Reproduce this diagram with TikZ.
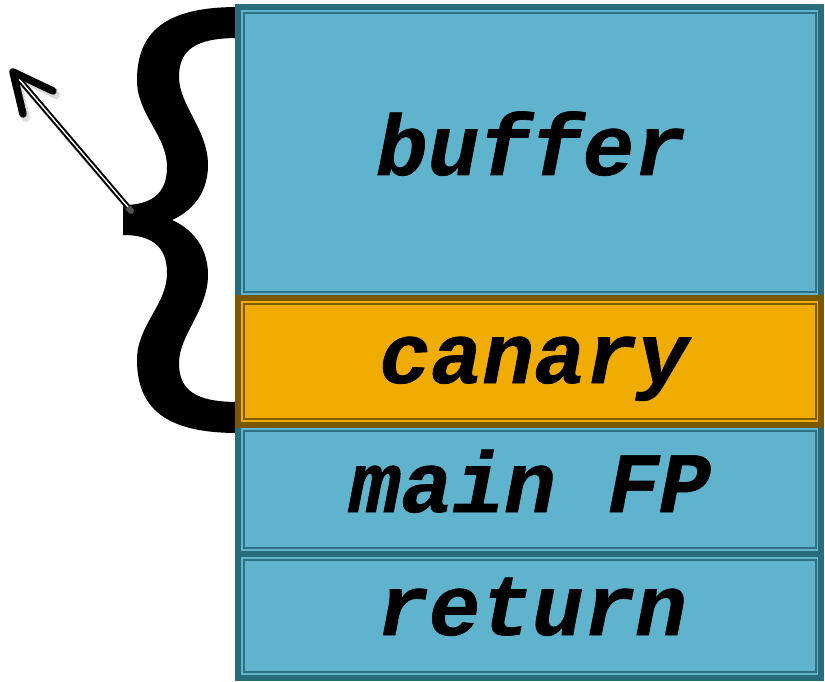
\documentclass[tikz,border=0pt]{standalone}
\usepackage{fontspec}
\newfontfamily\lblfont{Liberation Mono}[BoldItalicFeatures={FakeBold=0.8}]
\begin{document}
\begin{tikzpicture}[x=1pt,y=-1pt,
  blueframe/.style={draw=frameteal, line width=6pt, fill=boxblue},
  canaryframe/.style={draw=framebrown, line width=6pt, fill=canaryorange},
  innerteal/.style={draw=innerteal, line width=1.6pt},
  innerbrown/.style={draw=innerbrownc, line width=1.6pt},
  label/.style={font=\fontsize{86}{86}\selectfont\lblfont\bfseries\itshape, anchor=base, inner sep=0pt}]
\definecolor{boxblue}{HTML}{5FB3CC}
\definecolor{frameteal}{HTML}{2A6B7C}
\definecolor{innerteal}{HTML}{2E7185}
\definecolor{canaryorange}{HTML}{F0AC00}
\definecolor{framebrown}{HTML}{7A5800}
\definecolor{innerbrownc}{HTML}{7E5B00}
\useasboundingbox (0,0) rectangle (825,682);
% brace
\fill[black] (238,7)
  .. controls (175,7) and (137,25) .. (137,80)
  .. controls (137,115) and (167,135) .. (167,167)
  .. controls (167,195) and (150,205) .. (123,205)
  -- (123,235)
  .. controls (150,235) and (167,245) .. (167,273)
  .. controls (167,305) and (137,325) .. (137,360)
  .. controls (137,415) and (175,433) .. (238,433)
  -- (238,402)
  .. controls (195,402) and (179,390) .. (179,363)
  .. controls (179,335) and (208,310) .. (208,275)
  .. controls (208,245) and (190,228) .. (172,220)
  .. controls (190,212) and (208,195) .. (208,165)
  .. controls (208,130) and (179,105) .. (179,77)
  .. controls (179,50) and (195,38) .. (238,38)
  -- cycle;
% boxes
\coordinate (bufNW) at (238,7);   \coordinate (bufSE) at (820.5,298);
\coordinate (fpNW) at (238,425);  \coordinate (fpSE) at (820.5,554);
\coordinate (retNW) at (238,554); \coordinate (retSE) at (820.5,678);
\coordinate (canNW) at (238,298); \coordinate (canSE) at (820.5,425);
\draw[blueframe] (bufNW) rectangle (bufSE);
\draw[innerteal] ([shift={(6,6)}]bufNW) rectangle ([shift={(-4.5,-6)}]bufSE);
\draw[blueframe] (fpNW) rectangle (fpSE);
\draw[innerteal] ([shift={(6,6)}]fpNW) rectangle ([shift={(-4.5,-6)}]fpSE);
\draw[blueframe] (retNW) rectangle (retSE);
\draw[innerteal] ([shift={(6,6)}]retNW) rectangle ([shift={(-4.5,-6)}]retSE);
\draw[canaryframe] (canNW) rectangle (canSE);
\draw[innerbrown] ([shift={(6,6)}]canNW) rectangle ([shift={(-4.5,-6)}]canSE);
% labels
\node[label] (tbuf) at (531,175) {buffer};
\node[label] (tcan) at (534,383) {canary};
\node[label] (tfp) at (530,512) {main FP};
\node[label] (tret) at (532,635) {return};
% arrow
\coordinate (atail) at (128,207);
\coordinate (ahead) at (13,72);
\draw[black!30, line width=6pt, line cap=round, opacity=0.45] ([shift={(3,4)}]atail) -- ([shift={(3,4)}]ahead);
\draw[black!30, line width=8pt, line cap=round, line join=round, opacity=0.45] ([shift={(43,23)}]ahead) -- ([shift={(3,4)}]ahead) -- ([shift={(13,46)}]ahead);
\draw[line width=2pt, double=white, double distance=1.4pt] (atail) -- (ahead);
\draw[line width=7.5pt, line cap=round, line join=round] ([shift={(40,19)}]ahead) -- (ahead) -- ([shift={(10,42)}]ahead);
\end{tikzpicture}
\end{document}
